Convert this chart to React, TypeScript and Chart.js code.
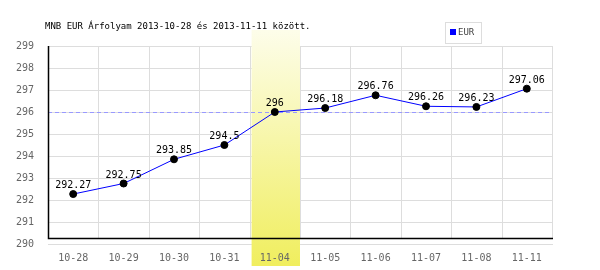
import React, { useEffect, useRef } from "react";
import { Chart, registerables } from "chart.js";
Chart.register(...registerables);

const categories = ["10-28", "10-29", "10-30", "10-31", "11-04", "11-05", "11-06", "11-07", "11-08", "11-11"];
const values = [292.27, 292.75, 293.85, 294.5, 296, 296.18, 296.76, 296.26, 296.23, 297.06];
const labels = ["292.27", "292.75", "293.85", "294.5", "296", "296.18", "296.76", "296.26", "296.23", "297.06"];
const yTicks = [290, 291, 292, 293, 294, 295, 296, 297, 298, 299];
const refValue = 296;
const highlightIndex = 4;
const titleText = "MNB EUR Árfolyam 2013-10-28 és 2013-11-11 között.";
const seriesName = "EUR";
const axisBase = 290.27;

const MONO = "'DejaVu Sans Mono', monospace";

export default function App() {
  const ref = useRef<HTMLCanvasElement>(null);
  useEffect(() => {
    const canvas = ref.current!;
    const deco = {
      id: "deco",
      beforeDraw(chart: any) {
        const { ctx, chartArea, scales } = chart;
        const x = scales.x, y = scales.y;
        const half = (chartArea.right - chartArea.left) / categories.length / 2;
        ctx.save();
        ctx.strokeStyle = "#dddddd";
        ctx.lineWidth = 1;
        for (let i = 0; i <= categories.length; i++) {
          const px = Math.round(chartArea.left + half * 2 * i) + 0.5;
          ctx.beginPath();
          ctx.moveTo(px, chartArea.top);
          ctx.lineTo(px, y.getPixelForValue(axisBase));
          ctx.stroke();
        }
        for (const t of yTicks) {
          const py = Math.round(y.getPixelForValue(t)) + 0.5;
          ctx.beginPath();
          ctx.moveTo(chartArea.left, py);
          ctx.lineTo(chartArea.right + 1, py);
          ctx.stroke();
        }
        const cx = x.getPixelForValue(highlightIndex);
        const g = ctx.createLinearGradient(0, 30, 0, 266);
        g.addColorStop(0, "#fdfdea");
        g.addColorStop(1, "#f0ee5e");
        ctx.fillStyle = g;
        ctx.fillRect(cx - half + 2, 30, half * 2 - 2, 236);
        // dashed ref line
        const ry = Math.round(y.getPixelForValue(refValue)) + 0.5;
        ctx.strokeStyle = "#9999ff";
        ctx.setLineDash([4, 3]);
        ctx.beginPath();
        ctx.moveTo(chartArea.left, ry);
        ctx.lineTo(chartArea.right, ry);
        ctx.stroke();
        ctx.setLineDash([]);
        // axes
        const by = Math.round(y.getPixelForValue(axisBase)) + 0.5;
        ctx.strokeStyle = "#000";
        ctx.lineWidth = 1.5;
        ctx.beginPath();
        ctx.moveTo(chartArea.left + 0.5, chartArea.top);
        ctx.lineTo(chartArea.left + 0.5, by);
        ctx.lineTo(chartArea.right + 1, by);
        ctx.stroke();
        ctx.restore();
      },
      afterDatasetsDraw(chart: any) {
        const { ctx } = chart;
        const meta = chart.getDatasetMeta(0);
        ctx.save();
        ctx.fillStyle = "#000";
        ctx.font = "10px " + MONO;
        ctx.textAlign = "center";
        ctx.textBaseline = "alphabetic";
        meta.data.forEach((p: any, i: number) => {
          ctx.fillText(labels[i], p.x, p.y - 6);
        });
        ctx.textAlign = "left";
        ctx.textBaseline = "middle";
        ctx.font = "9px " + MONO;
        ctx.fillText(titleText, 45, 27);
        ctx.strokeStyle = "#dddddd";
        ctx.lineWidth = 1;
        ctx.strokeRect(445.5, 22.5, 36, 21);
        ctx.fillStyle = "#0000ff";
        ctx.fillRect(450, 29, 6, 6);
        ctx.fillStyle = "#444";
        ctx.fillText(seriesName, 458, 33);
        ctx.restore();
      },
    };
    const chart = new Chart(canvas, {
      type: "line",
      data: {
        labels: categories,
        datasets: [
          {
            label: seriesName,
            data: values,
            borderColor: "#0000ff",
            borderWidth: 1,
            pointBackgroundColor: "#000",
            pointBorderColor: "#000",
            pointRadius: 3.5,
            tension: 0,
          },
        ],
      },
      options: {
        animation: false,
        responsive: false,
        layout: { padding: { top: 46, right: 48, left: 0, bottom: 0 } },
        plugins: { legend: { display: false }, title: { display: false }, tooltip: { enabled: false } },
        scales: {
          x: {
            offset: true,
            grid: { display: false },
            border: { display: false },
            ticks: { color: "#666", font: { family: MONO, size: 10 }, padding: 0, maxRotation: 0, autoSkip: false },
            afterFit(s: any) { s.height = 26; },
          },
          y: {
            min: 290,
            max: 299,
            afterBuildTicks(s: any) { s.ticks = yTicks.map((v) => ({ value: v })); },
            grid: { display: false },
            border: { display: false },
            ticks: { color: "#666", font: { family: MONO, size: 10 }, padding: 6 },
            afterFit(s: any) { s.width = 48; },
          },
        },
      },
      plugins: [deco],
    });
    return () => chart.destroy();
  }, []);
  return (
    <div style={{ position: "fixed", left: 0, top: 0, width: 600, height: 270, background: "#fff" }}>
      <canvas ref={ref} width={600} height={270} />
    </div>
  );
}
